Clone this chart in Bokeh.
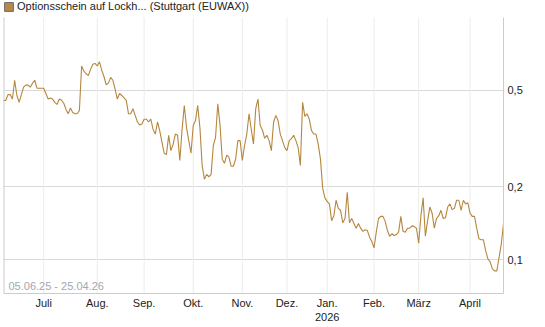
from bokeh.plotting import figure
from bokeh.models import (Range1d, FixedTicker, Label, Legend, LegendItem)
from bokeh.embed import file_html
from bokeh.resources import INLINE

# Trading-day series 05.06.25 - 24.04.26 (one value per trading day)
prices = [
    0.454, 0.454, 0.48, 0.48, 0.46, 0.55, 0.476, 0.446, 0.48, 0.515,
    0.525, 0.525, 0.515, 0.535, 0.55, 0.51, 0.51, 0.51, 0.51, 0.485,
    0.46, 0.465, 0.46, 0.446, 0.437, 0.46, 0.455, 0.442, 0.417, 0.40,
    0.423, 0.405, 0.40, 0.40, 0.413, 0.63, 0.60, 0.585, 0.575, 0.61,
    0.64, 0.645, 0.63, 0.655, 0.605, 0.57, 0.527, 0.535, 0.565, 0.55,
    0.505, 0.46, 0.485, 0.476, 0.465, 0.454, 0.40, 0.40, 0.42, 0.394,
    0.37, 0.36, 0.363, 0.38, 0.38, 0.37, 0.38, 0.345, 0.33, 0.37,
    0.34, 0.305, 0.275, 0.272, 0.326, 0.282, 0.30, 0.33, 0.326, 0.257,
    0.345, 0.433, 0.35, 0.31, 0.275, 0.358, 0.375, 0.433, 0.35, 0.245,
    0.215, 0.225, 0.22, 0.225, 0.296, 0.32, 0.44, 0.36, 0.26, 0.25,
    0.27, 0.265, 0.243, 0.243, 0.26, 0.31, 0.31, 0.257, 0.296, 0.33,
    0.40, 0.345, 0.30, 0.42, 0.46, 0.358, 0.343, 0.317, 0.326, 0.31,
    0.282, 0.37, 0.394, 0.375, 0.33, 0.31, 0.29, 0.282, 0.31, 0.316,
    0.326, 0.31, 0.29, 0.245, 0.446, 0.39, 0.40, 0.38, 0.341, 0.33,
    0.33, 0.30, 0.26, 0.197, 0.18, 0.174, 0.17, 0.145, 0.152, 0.176,
    0.163, 0.16, 0.142, 0.148, 0.19, 0.142, 0.148, 0.141, 0.135, 0.141,
    0.135, 0.131, 0.133, 0.132, 0.124, 0.119, 0.112, 0.13, 0.148, 0.151,
    0.151, 0.144, 0.132, 0.125, 0.128, 0.126, 0.127, 0.13, 0.151, 0.131,
    0.13, 0.135, 0.135, 0.138, 0.137, 0.135, 0.117, 0.152, 0.18, 0.125,
    0.145, 0.165, 0.156, 0.135, 0.148, 0.152, 0.16, 0.148, 0.149, 0.165,
    0.17, 0.161, 0.163, 0.176, 0.176, 0.16, 0.176, 0.17, 0.172, 0.156,
    0.151, 0.151, 0.135, 0.122, 0.121, 0.121, 0.109, 0.101, 0.098, 0.092,
    0.09, 0.09, 0.102, 0.116, 0.141,
]
days = list(range(len(prices)))

month_ticks = [18, 42, 63, 85, 107, 127, 145, 166, 186, 209]
month_labels = ["Juli", "Aug.", "Sep.", "Okt.", "Nov.", "Dez.", "Jan.\n2026", "Feb.", "März", "April"]

y_ticks = [0.1, 0.2, 0.5]
y_labels = ["0,1", "0,2", "0,5"]

series_name = "Optionsschein auf Lockh... (Stuttgart (EUWAX))"
period_text = "05.06.25 - 25.04.26"

FONT = "Liberation Sans"
LINE_COLOR = "#b5873e"

Y_LOW, Y_HIGH, Y_TOP = 0.0726, 1.0, 1.173
X_END = len(prices) - 1

p = figure(width=545, height=327, output_backend="svg", toolbar_location=None,
           y_axis_type="log", y_axis_location="right",
           x_range=Range1d(0, X_END), y_range=Range1d(Y_LOW, Y_TOP),
           min_border_left=3, min_border_right=42, min_border_top=0, min_border_bottom=34)
p.outline_line_color = None
p.background_fill_color = "white"

# vertical month grid lines and left border (only within the chart body)
p.xgrid.visible = False
p.segment(x0=month_ticks, y0=[Y_LOW] * len(month_ticks), x1=month_ticks, y1=[Y_HIGH] * len(month_ticks),
          line_color="#ececec", line_width=1)
p.segment(x0=[0], y0=[Y_LOW], x1=[0], y1=[Y_HIGH], line_color="#cccccc", line_width=2)

r = p.line(days, prices, line_color=LINE_COLOR, line_width=1.1)

# legend swatch (dummy box outside view)
dummy = p.quad(left=[-60], right=[-50], bottom=[0.3], top=[0.31],
               fill_color="#b8894a", line_color="#6b6b6b", line_width=1)
legend = Legend(items=[LegendItem(label=series_name, renderers=[dummy])],
                orientation="horizontal", location="top_left",
                label_text_font=FONT, label_text_font_size="11px", label_text_color="#222222",
                glyph_width=11, glyph_height=11, label_standoff=3,
                padding=0, margin=0, spacing=0, border_line_color=None,
                background_fill_alpha=0, label_height=12)
p.add_layout(legend)

# axes
xa = p.xaxis[0]
xa.ticker = FixedTicker(ticks=month_ticks)
xa.major_label_overrides = {t: l for t, l in zip(month_ticks, month_labels)}
xa.major_tick_in = 0
xa.major_tick_out = 0
xa.minor_tick_in = 0
xa.minor_tick_out = 0
xa.axis_line_color = "#cccccc"
xa.major_label_text_font = FONT
xa.major_label_text_font_size = "11px"
xa.major_label_text_color = "#222222"
xa.major_label_standoff = 3

ya = p.yaxis[0]
ya.ticker = FixedTicker(ticks=y_ticks)
ya.bounds = (Y_LOW, Y_HIGH)
ya.major_label_overrides = {t: l for t, l in zip(y_ticks, y_labels)}
ya.major_tick_in = 0
ya.major_tick_out = 0
ya.minor_tick_in = 0
ya.minor_tick_out = 0
ya.axis_line_color = "#cccccc"
ya.major_label_text_font = FONT
ya.major_label_text_font_size = "11px"
ya.major_label_text_color = "#222222"
ya.major_label_standoff = 4

p.ygrid[0].ticker = FixedTicker(ticks=y_ticks)
p.ygrid[0].grid_line_color = "#d9d9d9"
p.ygrid[0].minor_grid_line_color = None

p.add_layout(Label(x=0, y=Y_LOW, text=period_text, x_offset=5, y_offset=2,
                   text_font=FONT, text_font_size="11px", text_color="#a3a7ae",
                   text_baseline="bottom"))

open("out.html", "w").write(file_html(p, INLINE))
